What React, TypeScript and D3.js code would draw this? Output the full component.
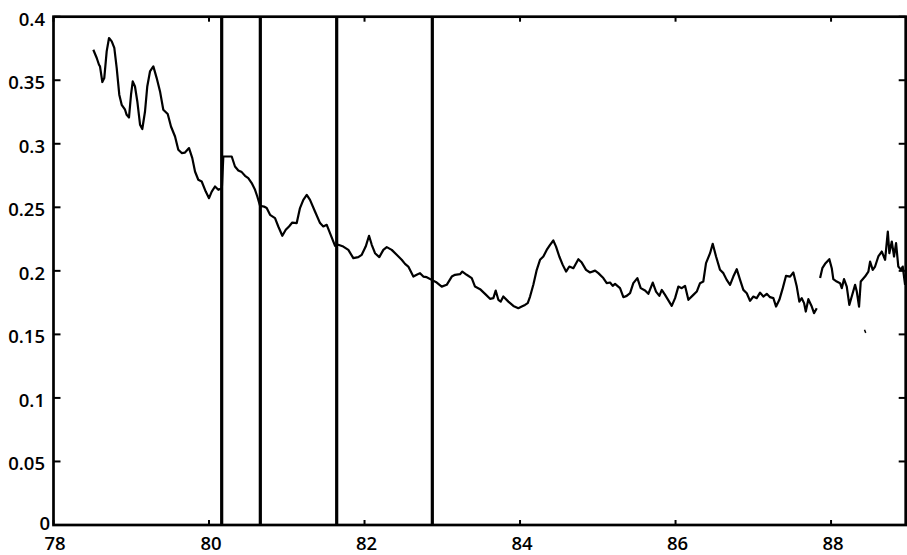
import React from "react";
import * as d3 from "d3";

const years: number[] = [
  78.512, 78.556, 78.585, 78.598, 78.628, 78.653, 78.684, 78.714, 78.749, 78.782,
  78.813, 78.846, 78.877, 78.92, 78.941, 78.971, 78.997, 79.019, 79.048, 79.078,
  79.113, 79.142, 79.177, 79.206, 79.241, 79.284, 79.327, 79.37, 79.412, 79.469,
  79.511, 79.563, 79.605, 79.649, 79.691, 79.743, 79.785, 79.82, 79.862, 79.906,
  79.958, 80.0, 80.035, 80.077, 80.12, 80.15, 80.165, 80.184, 80.292, 80.334,
  80.377, 80.421, 80.463, 80.505, 80.549, 80.592, 80.621, 80.656, 80.707, 80.742,
  80.785, 80.849, 80.891, 80.943, 80.987, 81.029, 81.071, 81.128, 81.17, 81.213,
  81.257, 81.299, 81.363, 81.428, 81.47, 81.514, 81.556, 81.621, 81.663, 81.727,
  81.792, 81.856, 81.92, 81.964, 82.015, 82.058, 82.093, 82.135, 82.19, 82.242,
  82.286, 82.35, 82.414, 82.478, 82.521, 82.563, 82.628, 82.671, 82.714, 82.756,
  82.8, 82.864, 82.929, 82.993, 83.057, 83.122, 83.164, 83.228, 83.258, 83.314,
  83.379, 83.421, 83.486, 83.55, 83.614, 83.657, 83.687, 83.721, 83.752, 83.785,
  83.85, 83.914, 83.978, 84.022, 84.064, 84.099, 84.129, 84.171, 84.215, 84.257,
  84.3, 84.343, 84.386, 84.428, 84.463, 84.505, 84.549, 84.592, 84.634, 84.686,
  84.75, 84.794, 84.849, 84.9, 84.965, 85.007, 85.071, 85.115, 85.158, 85.192,
  85.222, 85.286, 85.329, 85.372, 85.415, 85.457, 85.509, 85.552, 85.608, 85.65,
  85.707, 85.749, 85.792, 85.823, 85.865, 85.951, 85.994, 86.036, 86.08, 86.122,
  86.165, 86.229, 86.273, 86.315, 86.357, 86.392, 86.444, 86.478, 86.521, 86.572,
  86.615, 86.658, 86.701, 86.743, 86.787, 86.83, 86.872, 86.916, 86.958, 87.001,
  87.044, 87.087, 87.129, 87.173, 87.215, 87.258, 87.293, 87.335, 87.379, 87.421,
  87.473, 87.515, 87.559, 87.592, 87.623, 87.653, 87.675, 87.708, 87.752, 87.781,
  87.816, 87.838, 87.859, 87.888, 87.923, 87.978, 88.009, 88.029, 88.073, 88.116,
  88.138, 88.167, 88.202, 88.235, 88.266, 88.309, 88.331, 88.36, 88.382, 88.437,
  88.48, 88.502, 88.536, 88.566, 88.608, 88.652, 88.695, 88.73, 88.75, 88.781,
  88.81, 88.836, 88.865, 88.9, 88.922, 88.952,
];

const values: (number | null)[] = [
  0.374, 0.3675, 0.3622, 0.3609, 0.3486, 0.3517, 0.3727, 0.3832, 0.3806, 0.3754,
  0.3596, 0.3386, 0.3307, 0.3268, 0.3228, 0.3207, 0.3386, 0.3491, 0.3451, 0.3333,
  0.315, 0.3116, 0.3254, 0.3451, 0.3569, 0.3609, 0.3517, 0.3412, 0.3268, 0.3234,
  0.3136, 0.3057, 0.2953, 0.2927, 0.2931, 0.2966, 0.2887, 0.2782, 0.2717, 0.2703,
  0.2624, 0.2572, 0.2624, 0.2664, 0.2638, 0.2646, 0.2646, 0.29, 0.29, 0.2821,
  0.279, 0.2777, 0.2748, 0.273, 0.2691, 0.2638, 0.2585, 0.2512, 0.2506, 0.2494,
  0.2441, 0.2415, 0.2349, 0.2276, 0.2323, 0.2349, 0.238, 0.2376, 0.2494, 0.2559,
  0.2598, 0.2559, 0.2467, 0.2376, 0.2349, 0.2362, 0.2297, 0.2197, 0.2205, 0.2191,
  0.2165, 0.21, 0.2108, 0.2126, 0.2191, 0.2276, 0.2205, 0.2139, 0.2108, 0.2165,
  0.2187, 0.2165, 0.2126, 0.2087, 0.2055, 0.2034, 0.1955, 0.1969, 0.1982, 0.1955,
  0.195, 0.1929, 0.1908, 0.1876, 0.189, 0.1955, 0.1969, 0.1974, 0.1994, 0.1969,
  0.1943, 0.1876, 0.1856, 0.1819, 0.178, 0.1785, 0.1845, 0.1772, 0.1758, 0.1798,
  0.1758, 0.1724, 0.1706, 0.1719, 0.1732, 0.1746, 0.1798, 0.189, 0.2008, 0.2087,
  0.2113, 0.2165, 0.2205, 0.2239, 0.2191, 0.2113, 0.2047, 0.1994, 0.2034, 0.2021,
  0.2092, 0.2065, 0.2008, 0.1987, 0.2002, 0.1982, 0.1943, 0.1903, 0.1908, 0.1882,
  0.1898, 0.1864, 0.1793, 0.1803, 0.1824, 0.1903, 0.1943, 0.1864, 0.1845, 0.1819,
  0.1908, 0.1837, 0.1803, 0.185, 0.1811, 0.1724, 0.1785, 0.1876, 0.1864, 0.1882,
  0.1772, 0.1811, 0.1837, 0.1903, 0.1916, 0.2061, 0.2139, 0.2213, 0.2113, 0.2008,
  0.1982, 0.1929, 0.189, 0.1955, 0.2013, 0.1929, 0.185, 0.1824, 0.1764, 0.1798,
  0.1785, 0.1829, 0.1798, 0.1819, 0.1793, 0.1785, 0.1719, 0.1772, 0.1864, 0.1961,
  0.1955, 0.1987, 0.1876, 0.1758, 0.1785, 0.1746, 0.168, 0.1777, 0.1719, 0.1667,
  0.1706, null, 0.1943, 0.2021, 0.2055, 0.2092, 0.2021, 0.1935, 0.1916, 0.1903,
  0.1864, 0.1935, 0.1876, 0.1732, 0.1798, 0.189, 0.1837, 0.1719, 0.1916, 0.1955,
  0.1994, 0.2073, 0.2008, 0.2034, 0.2113, 0.2152, 0.2087, 0.2309, 0.2139, 0.2231,
  0.2113, 0.2218, 0.2034, 0.2008, 0.2034, 0.189,
];

// isolated stray mark below the series near 88.44
const strayYears: number[] = [88.43, 88.446];
const strayValues: number[] = [0.1536, 0.1512];

// vertical event lines
const eventYears: number[] = [80.163, 80.66, 81.642, 82.872];

const xTicks: number[] = [78, 80, 82, 84, 86, 88];
const yTicks: number[] = [0, 0.05, 0.1, 0.15, 0.2, 0.25, 0.3, 0.35, 0.4];
const yTickLabels: string[] = ["0", "0.05", "0.1", "0.15", "0.2", "0.25", "0.3", "0.35", "0.4"];

const W = 907;
const H = 555;
const M = { left: 53.5, right: 1.3, top: 16.7, bottom: 30 };
const FONT = "'Open Sans', 'DejaVu Sans', sans-serif";

export default function App() {
  const x = d3.scaleLinear().domain([78, 88.96]).range([M.left, W - M.right]);
  const y = d3.scaleLinear().domain([0, 0.4]).range([H - M.bottom, M.top]);

  const pts = years.map((yr, i) => ({ yr, v: values[i] }));
  const line = d3
    .line<{ yr: number; v: number | null }>()
    .defined((d) => d.v !== null)
    .x((d) => x(d.yr))
    .y((d) => y(d.v as number));

  const stray = d3
    .line<number>()
    .x((d) => x(d))
    .y((_, i) => y(strayValues[i]));

  const x0 = M.left;
  const x1 = W - M.right;
  const y0 = H - M.bottom;
  const y1 = M.top;

  return (
    <svg
      width={W}
      height={H}
      style={{ position: "absolute", left: 0, top: 0, background: "#fff" }}
    >
      <rect x={0} y={0} width={W} height={H} fill="#fff" />
      {eventYears.map((e, i) => (
        <line key={"e" + i} x1={x(e)} x2={x(e)} y1={y0} y2={y1} stroke="#000" strokeWidth={3.2} />
      ))}
      <path d={line(pts) || ""} fill="none" stroke="#000" strokeWidth={2.2} strokeLinejoin="round" />
      <path d={stray(strayYears) || ""} fill="none" stroke="#000" strokeWidth={1.5} />
      {xTicks.map((t, i) => (
        <g key={"xt" + i}>
          <line x1={x(t)} x2={x(t)} y1={y0} y2={y0 - 5} stroke="#000" strokeWidth={2} />
          <line x1={x(t)} x2={x(t)} y1={y1} y2={y1 + 5} stroke="#000" strokeWidth={2} />
          <text
            x={x(t) + (i === 0 ? 1.5 : 2)}
            y={550}
            textAnchor="middle"
            fontFamily={FONT}
            fontWeight={600}
            fontSize={18.5}
            fill="#000"
          >
            {t}
          </text>
        </g>
      ))}
      {yTicks.map((t, i) => (
        <g key={"yt" + i}>
          <line x1={x0} x2={x0 + 7} y1={y(t)} y2={y(t)} stroke="#000" strokeWidth={2} />
          <line x1={x1} x2={x1 - 7} y1={y(t)} y2={y(t)} stroke="#000" strokeWidth={2} />
          <text
            x={i === 0 ? 50 : 45}
            y={y(t) + (i === 0 ? -3 : 1.5)}
            textAnchor="end"
            dominantBaseline="central"
            fontFamily={FONT}
            fontWeight={600}
            fontSize={18.5}
            fill="#000"
          >
            {yTickLabels[i]}
          </text>
        </g>
      ))}
      <rect x={x0} y={y1} width={x1 - x0} height={y0 - y1} fill="none" stroke="#000" strokeWidth={2.7} />
    </svg>
  );
}
